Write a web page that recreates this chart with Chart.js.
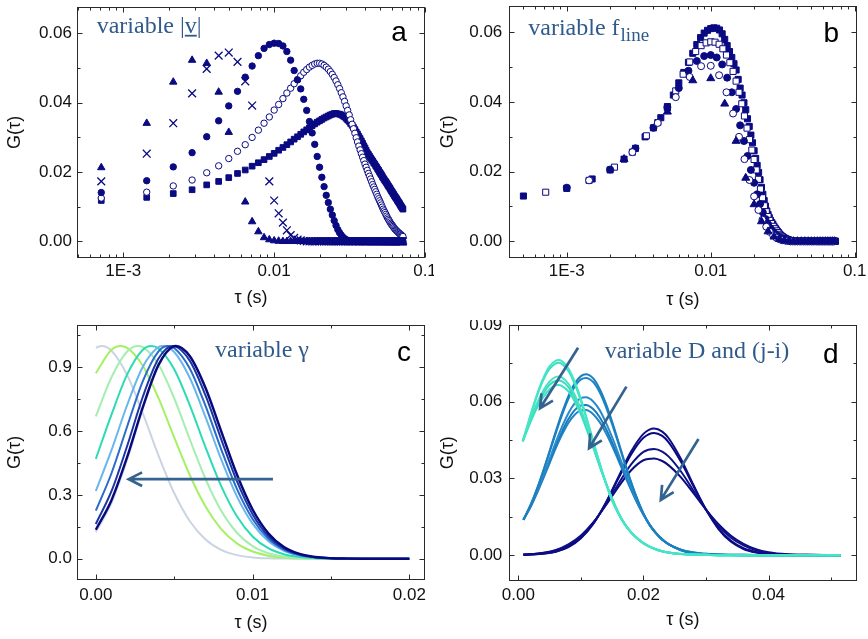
<!DOCTYPE html>
<html>
<head>
<meta charset="utf-8">
<title>G(tau) panels</title>
<script src="https://cdn.jsdelivr.net/npm/chart.js@4.4.1/dist/chart.umd.min.js"></script>
<style>
  html, body { margin: 0; padding: 0; background: #fff; }
  #wrap { position: relative; width: 868px; height: 639px; overflow: hidden; }
  #wrap canvas { position: absolute; }
</style>
</head>
<body>
<div id="wrap">
  <canvas id="panelA" width="434" height="320" style="left:0;top:0"></canvas>
  <canvas id="panelB" width="434" height="320" style="left:434px;top:0"></canvas>
  <canvas id="panelC" width="434" height="319" style="left:0;top:320px"></canvas>
  <canvas id="panelD" width="434" height="319" style="left:434px;top:320px"></canvas>
</div>
<script>
// ---- panel a : lag times (ms) and G(tau) for five |v| ----
const tauA = [0.714,1.429,2.143,2.857,3.571,4.286,5,5.714,6.429,7.143,
  7.857,8.571,9.286,10,10.71,11.43,12.14,12.86,13.57,14.29,
  15,15.71,16.43,17.14,17.86,18.57,19.29,20,20.71,21.43,
  22.14,22.86,23.57,24.29,25,25.71,26.43,27.14,27.86,28.57,
  29.29,30,30.71,31.43,32.14,32.86,33.57,34.29,35,35.71,
  36.43,37.14,37.86,38.57,39.29,40,40.71,41.43,42.14,42.86,
  43.57,44.29,45,45.71,46.43,47.14,47.86,48.57,49.29,50,
  50.71,51.43,52.14,52.86,53.57,54.29,55,55.71,56.43,57.14,
  57.86,58.57,59.29,60,60.71,61.43,62.14,62.86,63.57,64.29,
  65,65.71,66.43,67.14,67.86,68.57,69.29,70,70.71,71.43];
const aTriangle = [.0213,.0341,.046,.0523,.0514,.0431,.0315,null,.0114,.0057,
  .0028,.0011,.0005,.0002,.0001,0,0,0,0,0,
  0,0,0,0,0,0,0,0,0,0, 0,0,0,0,0,0,0,0,0,0, 0,0,0,0,0,0,0,0,0,0,
  0,0,0,0,0,0,0,0,0,0, 0,0,0,0,0,0,0,0,0,0, 0,0,0,0,0,0,0,0,0,0,
  0,0,0,0,0,0,0,0,0,0, 0,0,0,0,0,0,0,0,0,0];
const aCross = [.0173,.0253,.0341,.0427,.0498,.0536,.0545,.0518,.0462,.0392,
  null,null,.0173,.0118,.0081,.0054,.0032,.0018,.001,.0005,
  .0003,.0001,0,0,0,0,0,0,0,0, 0,0,0,0,0,0,0,0,0,0, 0,0,0,0,0,0,0,0,0,0,
  0,0,0,0,0,0,0,0,0,0, 0,0,0,0,0,0,0,0,0,0, 0,0,0,0,0,0,0,0,0,0,
  0,0,0,0,0,0,0,0,0,0, 0,0,0,0,0,0,0,0,0,0];
const aDisc = [.0141,.0175,.0215,.0256,.0302,.0348,.0391,.0433,.0474,.0506,
  .0536,.0557,.0568,.0572,.0571,.0564,.0548,.0523,.0493,.0466,
  .044,.041,.0378,.0346,.0313,.028,.0245,.0214,.0185,.0158,
  .0133,.0112,.0093,.0076,.006,.0046,.0034,.0025,.0018,.0012,
  .0008,.0005,.0003,.0002,.0001,0,0,0,0,0,
  0,0,0,0,0,0,0,0,0,0, 0,0,0,0,0,0,0,0,0,0, 0,0,0,0,0,0,0,0,0,0,
  0,0,0,0,0,0,0,0,0,0, 0,0,0,0,0,0,0,0,0,0];
const aRing = [.0125,.0142,.016,.0177,.0198,.0218,.0239,.026,.0279,.030,
  .0321,.0341,.0359,.0379,.0395,.0412,.0428,.0442,.0455,.0467,
  .0478,.0488,.0496,.0503,.0508,.0512,.0514,.0514,.0512,.0508,
  .0503,.0497,.049,.0482,.0473,.0463,.0452,.0441,.0429,.0417,
  .0404,.0391,.0378,.0365,.0351,.0338,.0325,.0312,.0299,.0287,
  .0275,.0264,.0253,.0243,.0233,.0223,.0214,.0205,.0196,.0188,
  .018,.0172,.0164,.0157,.015,.0143,.0136,.0129,.0123,.0117,
  .0111,.0105,.0099,.0093,.0088,.0083,.0078,.0073,.0068,.0064,
  .006,.0056,.0052,.0049,.0046,.0043,.004,.0037,.0034,.0032,
  .003,.0028,.0026,.0024,.0022,.0021,.0019,.0017,.0016,.0014];
const aSquare = [.0118,.0127,.0138,.0149,.0163,.0173,.0184,.0196,.0206,.0217,
  .0227,.0236,.0245,.0254,.0263,.0271,.0279,.0287,.0295,.0302,
  .0309,.0316,.0322,.0328,.0334,.0339,.0344,.0348,.0352,.0356,
  .0359,.0362,.0365,.0367,.0369,.0369,.0368,.0367,.0365,.0362,
  .0359,.0355,.035,.0346,.034,.0335,.0329,.0323,.0316,.031,
  .0303,.0297,.029,.0283,.0276,.027,.0263,.0256,.0251,.0246,
  .0241,.0236,.0232,.0227,.0223,.0218,.0214,.0209,.0205,.02,
  .0196,.0192,.0187,.0183,.0179,.0175,.0172,.0168,.0164,.016,
  .0157,.0153,.0149,.0145,.0142,.0138,.0135,.0131,.0128,.0125,
  .0122,.0118,.0115,.0112,.0109,.0105,.0102,.0099,.0096,.0093];

// ---- panel b : each f_line sampled on its own lag grid (ms) ----
const tauHalf = [.5,1,1.5,2,2.5,3,3.5,4,4.5,5, 5.5,6,6.5,7,7.5,8,8.5,9,9.5,10,
  10.5,11,11.5,12,12.5,13,13.5,14,14.5,15, 15.5,16,16.5,17,17.5,18,18.5,19,19.5,20,
  20.5,21,21.5,22,22.5,23,23.5,24,24.5,25, 25.5,26,26.5,27,27.5,28,28.5,29,29.5,30,
  30.5,31,31.5,32,32.5,33,33.5,34,34.5,35, 35.5,36,36.5,37,37.5,38,38.5,39,39.5,40,
  40.5,41,41.5,42,42.5,43,43.5,44,44.5,45, 45.5,46,46.5,47,47.5,48,48.5,49,49.5,50,
  50.5,51,51.5,52,52.5,53,53.5,54,54.5,55, 55.5,56,56.5,57,57.5,58,58.5,59,59.5,60,
  60.5,61,61.5,62,62.5,63,63.5,64,64.5,65, 65.5,66,66.5,67,67.5,68,68.5,69,69.5,70,
  70.5,71,71.5,72,72.5,73,73.5];
const bSquare = [.013,.0152,.0179,.0205,.0236,.0267,.030,.0326,.0355,.0387,
  .042,.0455,.0485,.0514,.054,.0565,.0585,.0598,.0606,.0611,
  .0613,.0612,.0607,.0596,.058,.0562,.0545,.0528,.051,.0492,
  .0465,.044,.042,.0398,.0378,.0352,.033,.0305,.0283,.026,
  .0238,.0218,.0198,.0177,.0155,.0135,.0117,.0101,.0087,.0077,
  .0068,.006,.0054,.0049,.0043,.0038,.0033,.0029,.0025,.0021,
  .0018,.0015,.0013,.0011,.0009,.0007,.0006,.0005,.0004,.0003,
  .0002,.0002,.0001,.0001,0,0,0,0,0,0,
  0,0,0,0,0,0,0,0,0,0, 0,0,0,0,0,0,0,0,0,0, 0,0,0,0,0,0,0,0,0,0,
  0,0,0,0,0,0,0,0,0,0, 0,0,0,0,0,0,0,0,0,0, 0,0,0,0,0,0,0,0,0,0,
  0,0,0,0,0,0,0];
const bOpenSquare = [.0141,.0175,.0213,.0256,.0303,.0341,.0383,.0432,.048,.0515,
  .0545,.0562,.057,.0573,.0572,.0566,.0553,.0535,.0513,.0488,
  .046,.0428,.0395,.036,.0325,.0292,.0262,.0235,.0205,.0178,
  .015,.0125,.0102,.0085,.0071,.006,.0051,.0043,.0036,.003,
  .0025,.002,.0016,.0013,.001,.0008,.0006,.0004,.0003,.0002,
  .0001,0,0,0,0,0,0,0,0,0,
  0,0,0,0,0,0,0,0,0,0, 0,0,0,0,0,0,0,0,0,0, 0,0,0,0,0,0,0,0,0,0,
  0,0,0,0,0,0,0,0,0,0];
const tauOne = [1,2,3,4,5,6,7,8,9,10, 11,12,13,14,15,16,17,18,19,20,
  21,22,23,24,25,26,27,28,29,30, 31,32,33,34,35,36,37,38,39,40,
  41,42,43,44,45,46,47,48,49,50, 51,52,53,54,55,56,57,58,59,60,
  61,62,63,64,65,66,67,68,69,70, 71,72];
const bDisc = [.0154,.0206,.0267,.0326,.0385,.044,.049,.0518,.0532,.0535,
  .0528,.0508,.047,.0428,.038,.0333,.0288,.0245,.0205,.0168,
  .0135,.0107,.0083,.0064,.0049,.0037,.0028,.0021,.0015,.0011,
  .0008,.0005,.0003,.0002,.0001,0,0,0,0,0,
  0,0,0,0,0,0,0,0,0,0, 0,0,0,0,0,0,0,0,0,0, 0,0,0,0,0,0,0,0,0,0,
  0,0];
const tauWide = [1.429,2.857,4.286,5.714,7.143,8.571,10,11.43,12.86,14.29,
  15.71,17.14,18.57,20,21.43,22.86,24.29,25.71,27.14,28.57,
  30,31.43,32.86,34.29,35.71,37.14,38.57,40,41.43,42.86,
  44.29,45.71,47.14,48.57,50,51.43,52.86,54.29,55.71,57.14,
  58.57,60,61.43,62.86,64.29,65.71,67.14,68.57,70,71.43];
const bRing = [.0175,.0256,.034,.0414,.0472,.0503,.0504,.0477,.0428,.0367,
  .030,.0236,.0176,.0129,.009,.0062,.0042,.0027,.0017,.001,
  .0006,.0003,.0002,.0001,0,0,0,0,0,0,
  0,0,0,0,0,0,0,0,0,0, 0,0,0,0,0,0,0,0,0,0];
const tauTri = [2.5,5,7.5,10,12.5,15,17.5,20,22.5,25,27.5,30,32.5,35,37.5,
  40,42.5,45,47.5,50,52.5,55,57.5,60,62.5,65,67.5,70,72.5];
const bTriangle = [.0236,.0372,.0462,.0468,.0395,.0288,.0182,.0106,.0057,.0028,
  .0013,.0006,.0002,.0001,0,0,0,0,0,0, 0,0,0,0,0,0,0,0,0];

// ---- panel c : normalised curves for variable gamma (ms grid + peak) ----
const tauC = [0,1,2,3,4,5,6,7,8,9,10,11,12,13,14,15,16,17,18,19,20];
const cPeakTau = [5.15,0.36,1.57,2.69,3.54,4.28,4.6,4.9,5.1];
const cCurves = [
  [.125,.262,.465,.703,.906,.998,.955,.807,.604,.40,.235,.122,.056,.023,.0083,.0026,.0007,.0002,.0001,0,0],
  [.992,.9779,.8635,.6835,.4851,.3087,.1761,.0901,.0413,.017,.0063,.0021,.0006,.0002,0,0,0,0,0,0,0],
  [.8719,.9821,.9912,.9071,.7547,.5707,.3924,.2452,.1393,.0719,.0338,.0144,.0056,.002,.0007,.0002,0,0,0,0,0],
  [.6686,.8531,.9739,.9949,.9133,.7543,.5604,.3747,.2254,.122,.0594,.026,.0102,.0036,.0012,.0003,.0001,0,0,0,0],
  [.4693,.6774,.8666,.9826,.9886,.8911,.7209,.5234,.341,.1994,.1047,.0493,.0208,.0079,.0027,.0008,.0002,0,0,0,0],
  [.3183,.5105,.7226,.9027,.9951,.9718,.8496,.6652,.4665,.293,.1648,.083,.0375,.0151,.0055,.0018,.0005,.0001,0,0,0],
  [.2256,.4018,.6214,.8352,.975,.9908,.8934,.7181,.5144,.3285,.187,.0948,.0429,.0173,.0062,.002,.0006,.0001,0,0,0],
  [.1633,.3173,.5301,.7615,.9407,.9994,.9299,.7673,.5614,.3643,.2096,.107,.0484,.0194,.0069,.0022,.0006,.0001,0,0,0],
  [.136,.2753,.4783,.7129,.9113,.9992,.9518,.8025,.5989,.3956,.2314,.1198,.0549,.0223,.008,.0025,.0007,.0002,.0001,0,0]
];
const cColors = ['#ccd7e4','#c9d5e2','#a6f064','#a4efb0','#2bdcb2','#68b6ee','#2a6ccc','#1a36a2','#08087c'];

// ---- panel d : three groups, variable D and (j-i) ----
const tauTeal = [0.7,2,3,4,5,6,6.4,7,8,9,10,11,12,13,14,15,16,17,18,19,20,21,22,23,24,26,28,30,32,36,42,51.5];
const dTeal = [
  [.0445,.0553,.063,.0693,.0739,.0761,.0763,.0758,.073,.0679,.061,.0529,.0443,.0359,.0281,.0212,.0162,.0121,.0089,.0065,.0046,.0032,.0022,.0015,.001,.0004,.0002,.0001,0,0,0,0],
  [.0445,.055,.0624,.0685,.0729,.075,.0752,.0747,.072,.067,.0603,.0524,.044,.0358,.0281,.0213,.0162,.0121,.0089,.0065,.0046,.0032,.0022,.0015,.001,.0004,.0002,.0001,0,0,0,0],
  [.0445,.0534,.0595,.0644,.0679,.0697,.0698,.0694,.067,.0627,.057,.0501,.0426,.0352,.0282,.0218,.0164,.0122,.009,.0066,.0047,.0033,.0023,.0015,.001,.0004,.0002,.0001,0,0,0,0],
  [.0445,.0529,.0587,.0633,.0666,.0682,.0683,.0679,.0657,.0615,.056,.0494,.0423,.035,.0282,.022,.0165,.0122,.009,.0066,.0047,.0033,.0023,.0015,.001,.0004,.0002,.0001,0,0,0,0],
  [.0445,.0524,.0577,.0619,.0649,.0664,.0665,.0661,.064,.0601,.0549,.0486,.0418,.0348,.0282,.0221,.0165,.0122,.009,.0066,.0047,.0033,.0023,.0015,.001,.0004,.0002,.0001,0,0,0,0]
];
const tauBlue = [0.8,2,3,4,5,6,7,8,9,10,10.8,12,13,14,15,16,17,18,19,20,21,22,23,24,26,28,30,32,36,42,51.5];
const dBlue = [
  [.0138,.0199,.0261,.0332,.0408,.0485,.0558,.0622,.0671,.07,.0707,.069,.065,.0592,.0521,.0443,.0363,.0288,.0221,.0163,.0117,.0085,.006,.0043,.0021,.001,.0005,.0002,.0001,0,0],
  [.0138,.0198,.0259,.0329,.0403,.0478,.0549,.0611,.0659,.0687,.0693,.0676,.0637,.058,.0511,.0436,.0358,.0285,.0219,.0162,.0117,.0085,.006,.0043,.0021,.001,.0005,.0002,.0001,0,0],
  [.0138,.0194,.025,.0312,.0377,.0443,.0503,.0555,.0593,.0614,.0617,.06,.0567,.0518,.046,.0396,.033,.0268,.021,.016,.0118,.0086,.0061,.0043,.002,.0008,.0004,.0001,0,0,0],
  [.0138,.0192,.0246,.0305,.0367,.0429,.0484,.0532,.0567,.0585,.0587,.057,.0539,.0494,.044,.0381,.0319,.0261,.0206,.0159,.0119,.0087,.0062,.0043,.0019,.0007,.0003,.0001,0,0,0],
  [.0138,.0191,.0244,.0301,.036,.0419,.0472,.0517,.0549,.0566,.0567,.055,.052,.0477,.0426,.037,.0312,.0256,.0204,.0158,.0119,.0087,.0062,.0043,.0019,.0007,.0003,.0001,0,0,0]
];
const tauNavy = [0.8,2,4,6,8,10,12,14,16,18,20,21.7,23,24,26,28,30,32,34,36,38,40,43,46,51.5];
const dNavy = [
  [.0001,.0002,.0005,.0013,.0031,.0066,.0123,.0206,.0306,.0404,.0474,.0495,.0483,.0458,.0376,.0274,.0178,.0102,.0052,.0024,.001,.0003,.0001,0,0],
  [.0001,.0002,.0006,.0014,.0033,.0068,.0124,.0204,.030,.0393,.0459,.0478,.0466,.0442,.0365,.0269,.0178,.0105,.0056,.0027,.0012,.0004,.0001,0,0],
  [.0002,.0003,.0008,.0018,.0038,.0073,.0127,.0199,.0279,.0354,.0404,.0415,.0405,.0386,.0327,.0252,.0178,.0115,.0068,.0038,.0019,.0008,.0002,.0001,0],
  [.0002,.0004,.0009,.002,.0042,.0077,.0129,.0195,.0267,.0331,.0371,.0378,.0368,.0352,.0304,.0242,.0178,.0121,.0076,.0044,.0023,.0011,.0003,.0001,0]
];
const tealColors = ['#45e6c8','#3ddfc2','#48e3bd','#3cd9c3','#40e0c8'];
const blueColors = ['#1b7fc0','#1f86c6','#2a8acb','#1a7cbc','#2285c4'];
const navyColors = ['#0c0c85','#0a0a80','#10108a','#0c0c82'];

// arrows in data units [x0, y0, x1 (tip), y1 (tip)]
const arrowsC = [[0.0113, 0.374, 0.0021, 0.374]];
const arrowsD = [[0.00955, 0.0811, 0.00347, 0.0574], [0.01728, 0.0659, 0.01131, 0.0418], [0.0288, 0.0454, 0.02278, 0.0216]];

// ticks
const logTicks = [0.001, 0.01, 0.1];
const logLabels = ['1E-3', '0.01', '0.1'];
const abTicksY = [0, 0.02, 0.04, 0.06];
const abLabelsY = ['0.00', '0.02', '0.04', '0.06'];
const cTicksX = [0, 0.01, 0.02];
const cLabelsX = ['0.00', '0.01', '0.02'];
const cTicksY = [0, 0.3, 0.6, 0.9];
const cLabelsY = ['0.0', '0.3', '0.6', '0.9'];
const dTicksX = [0, 0.02, 0.04];
const dLabelsX = ['0.00', '0.02', '0.04'];
const dTicksY = [0, 0.03, 0.06, 0.09];
const dLabelsY = ['0.00', '0.03', '0.06', '0.09'];

Chart.defaults.font.family = "'Liberation Sans', Arial, sans-serif";
Chart.defaults.color = '#111';

const NAVY = '#0a0a82';
const NOTE = '#2f5a8a';
const ARROW = '#35638f';
const SERIF = "'Liberation Serif', 'DejaVu Serif', serif";

const toPts = (tau, g) => tau.map((t, i) => ({ x: t / 1000, y: g[i] })).filter(p => p.y !== null);

function logMinors(min, max) {
  const out = [];
  for (let e = -5; e <= 0; e++) {
    for (let m = 2; m <= 9; m++) {
      const v = m * Math.pow(10, e);
      if (v > min && v < max) out.push(v);
    }
  }
  return out;
}

function drawArrow(ctx, chart, s) {
  const X = chart.scales.x, Y = chart.scales.y;
  const x0 = X.getPixelForValue(s[0]), y0 = Y.getPixelForValue(s[1]);
  const x1 = X.getPixelForValue(s[2]), y1 = Y.getPixelForValue(s[3]);
  const ang = Math.atan2(y1 - y0, x1 - x0), L = 15, spr = 0.47;
  ctx.beginPath();
  ctx.moveTo(x0, y0);
  ctx.lineTo(x1, y1);
  ctx.moveTo(x1 - L * Math.cos(ang - spr), y1 - L * Math.sin(ang - spr));
  ctx.lineTo(x1, y1);
  ctx.lineTo(x1 - L * Math.cos(ang + spr), y1 - L * Math.sin(ang + spr));
  ctx.stroke();
}

// frame with inward ticks on all four sides, plus panel letter, note and arrows
function framePlugin(g) {
  return {
    id: 'frame',
    afterDraw(chart) {
      const { ctx, chartArea: a, scales: { x, y } } = chart;
      ctx.save();
      if (g.arrows) {
        ctx.strokeStyle = ARROW;
        ctx.lineWidth = 2.7;
        g.arrows.forEach(s => drawArrow(ctx, chart, s));
      }
      ctx.strokeStyle = '#2a2a2a';
      ctx.lineWidth = 1;
      const L = Math.round(a.left) + 0.5, R = Math.round(a.right) - 0.5;
      const T = Math.round(a.top) + 0.5, B = Math.round(a.bottom) - 0.5;
      ctx.strokeRect(L, T, R - L, B - T);
      ctx.beginPath();
      const seg = (x0, y0, x1, y1) => { ctx.moveTo(x0, y0); ctx.lineTo(x1, y1); };
      [[g.xMajor, 5], [g.xMinor, 3]].forEach(([vals, len]) => vals.forEach(v => {
        const px = Math.round(x.getPixelForValue(v)) + 0.5;
        seg(px, B, px, B - len); seg(px, T, px, T + len);
      }));
      [[g.yMajor, 5], [g.yMinor, 3]].forEach(([vals, len]) => vals.forEach(v => {
        const py = Math.round(y.getPixelForValue(v)) + 0.5;
        seg(L, py, L + len, py); seg(R, py, R - len, py);
      }));
      ctx.stroke();
      ctx.fillStyle = '#000';
      ctx.font = "28px 'Liberation Sans', Arial, sans-serif";
      ctx.textAlign = 'center';
      ctx.textBaseline = 'alphabetic';
      ctx.fillText(g.letter, g.letterAt[0], g.letterAt[1]);
      ctx.textAlign = 'left';
      ctx.fillStyle = NOTE;
      g.note(ctx);
      ctx.restore();
    }
  };
}

function makePanel(id, g) {
  return new Chart(document.getElementById(id), {
    type: 'scatter',
    data: { datasets: g.datasets },
    options: {
      responsive: false,
      animation: false,
      events: [],
      layout: { padding: { top: g.padTop, right: g.padRight, left: 0, bottom: 0 } },
      plugins: { legend: { display: false }, tooltip: { enabled: false } },
      scales: {
        x: {
          type: g.xType, min: g.xMin, max: g.xMax,
          grid: { display: false, drawTicks: false },
          border: { display: false },
          ticks: { autoSkip: false, maxRotation: 0, minRotation: 0, padding: g.xLabelPad,
                   color: '#111', font: { size: 17 }, callback: (v, i) => g.xLabels[i] },
          afterBuildTicks: s => { s.ticks = g.xMajor.map(v => ({ value: v })); },
          afterFit: s => { s.height = g.xHeight; s.paddingLeft = 0; s.paddingRight = 0; },
          title: { display: true, text: 'τ (s)', color: '#111', font: { size: 18 },
                   padding: { top: 0, bottom: g.xTitlePad } }
        },
        y: {
          type: 'linear', min: g.yMin, max: g.yMax,
          grid: { display: false, drawTicks: false },
          border: { display: false },
          ticks: { autoSkip: false, padding: g.yLabelPad, color: '#111', font: { size: 17 },
                   callback: (v, i) => g.yLabels[i] },
          afterBuildTicks: s => { s.ticks = g.yMajor.map(v => ({ value: v })); },
          afterFit: s => { s.width = g.yWidth; s.paddingTop = 0; s.paddingBottom = 0; },
          title: { display: true, text: 'G(τ)', color: '#111', font: { size: 18 },
                   padding: { top: g.yTitlePad, bottom: 0 } }
        }
      }
    },
    plugins: [framePlugin(g)]
  });
}

const marker = (tau, g, style, r, fill, order, bw) => ({
  data: toPts(tau, g), pointStyle: style, pointRadius: r,
  pointBackgroundColor: fill, pointBorderColor: NAVY, pointBorderWidth: bw, order
});

const curve = (pts, color, order, w) => ({
  data: pts, showLine: true, borderColor: color, borderWidth: w || 2, pointRadius: 0,
  cubicInterpolationMode: 'monotone', fill: false, order
});

// panel a
makePanel('panelA', {
  datasets: [
    marker(tauA, aTriangle, 'triangle', 4.3, NAVY, 0, 1),
    marker(tauA, aCross, 'crossRot', 5.5, NAVY, 1, 1.3),
    marker(tauA, aDisc, 'circle', 3.2, NAVY, 2, 1),
    marker(tauA, aRing, 'circle', 3.2, '#fff', 3, 1),
    marker(tauA, aSquare, 'rect', 4.0, NAVY, 4, 1)
  ],
  xType: 'logarithmic', xMin: 4.93e-4, xMax: 0.1, xMajor: logTicks, xMinor: logMinors(4.93e-4, 0.1), xLabels: logLabels,
  yMin: -0.0048, yMax: 0.0677, yMajor: abTicksY, yMinor: [0.01, 0.03, 0.05], yLabels: abLabelsY,
  padTop: 3, padRight: 9, yWidth: 77, xHeight: 62,
  xLabelPad: 3.5, yLabelPad: 5, xTitlePad: 11.5, yTitlePad: 4.7,
  letter: 'a', letterAt: [399, 40.7],
  note(ctx) {
    ctx.font = '24px ' + SERIF;
    let x = 96.7; const y = 33.3;
    ctx.fillText('variable |', x, y);
    x += ctx.measureText('variable |').width;
    const wv = ctx.measureText('v').width;
    ctx.fillText('v', x, y);
    ctx.fillRect(x, y + 1.5, wv, 1.8);
    ctx.fillText('|', x + wv, y);
  }
});

// panel b
makePanel('panelB', {
  datasets: [
    marker(tauTri, bTriangle, 'triangle', 4.6, NAVY, 0, 1),
    marker(tauWide, bRing, 'circle', 3.5, '#fff', 1, 1),
    marker(tauOne, bDisc, 'circle', 3.5, NAVY, 2, 1),
    marker(tauA, bOpenSquare, 'rect', 4.3, '#fff', 3, 1),
    marker(tauHalf, bSquare, 'rect', 4.3, NAVY, 4, 1)
  ],
  xType: 'logarithmic', xMin: 3.97e-4, xMax: 0.1032, xMajor: logTicks, xMinor: logMinors(3.97e-4, 0.1032), xLabels: logLabels,
  yMin: -0.0048, yMax: 0.0677, yMajor: abTicksY, yMinor: [0.01, 0.03, 0.05], yLabels: abLabelsY,
  padTop: 3, padRight: 11.3, yWidth: 75, xHeight: 62,
  xLabelPad: 3.5, yLabelPad: 6.7, xTitlePad: 9.2, yTitlePad: 3.7,
  letter: 'b', letterAt: [397.3, 41.7],
  note(ctx) {
    ctx.font = '24px ' + SERIF;
    const x = 94.3;
    ctx.fillText('variable f', x, 35);
    const w = ctx.measureText('variable f').width;
    ctx.font = '19px ' + SERIF;
    ctx.fillText('line', x + w + 1, 41.2);
  }
});

// panel c
const cSets = cCurves.map((vals, i) => {
  const pts = toPts(tauC, vals);
  pts.push({ x: cPeakTau[i] / 1000, y: 1 });
  pts.sort((p, q) => p.x - q.x);
  return curve(pts, cColors[i], cCurves.length - i, i === cCurves.length - 1 ? 2.4 : 2);
});
makePanel('panelC', {
  datasets: cSets,
  xType: 'linear', xMin: -0.0012, xMax: 0.021, xMajor: cTicksX, xMinor: [0.005, 0.015], xLabels: cLabelsX,
  yMin: -0.1, yMax: 1.1, yMajor: cTicksY, yMinor: [0.15, 0.45, 0.75, 1.05], yLabels: cLabelsY,
  padTop: 4.7, padRight: 9, yWidth: 77, xHeight: 59,
  xLabelPad: 4.8, yLabelPad: 5, xTitlePad: 4.9, yTitlePad: 4.7,
  letter: 'c', letterAt: [404, 40.7],
  arrows: arrowsC,
  note(ctx) {
    ctx.font = '24px ' + SERIF;
    ctx.fillText('variable γ', 215, 37.3);
  }
});

// panel d
const dSets = [];
dNavy.forEach((v, i) => dSets.push(curve(toPts(tauNavy, v), navyColors[i], 30 + i)));
dBlue.forEach((v, i) => dSets.push(curve(toPts(tauBlue, v), blueColors[i], 20 + i)));
dTeal.forEach((v, i) => dSets.push(curve(toPts(tauTeal, v), tealColors[i], 10 + i)));
makePanel('panelD', {
  datasets: dSets,
  xType: 'linear', xMin: -0.0015, xMax: 0.0541, xMajor: dTicksX, xMinor: [0.01, 0.03, 0.05], xLabels: dLabelsX,
  yMin: -0.01, yMax: 0.0901, yMajor: dTicksY, yMinor: [0.015, 0.045, 0.075], yLabels: dLabelsY,
  padTop: 4.7, padRight: 11.3, yWidth: 75, xHeight: 58.3,
  xLabelPad: 4.1, yLabelPad: 6.7, xTitlePad: 8.2, yTitlePad: 3.2,
  letter: 'd', letterAt: [396.7, 42.7],
  arrows: arrowsD,
  note(ctx) {
    ctx.font = '24px ' + SERIF;
    ctx.fillText('variable D and (j-i)', 170.7, 38.3);
  }
});
</script>
</body>
</html>
